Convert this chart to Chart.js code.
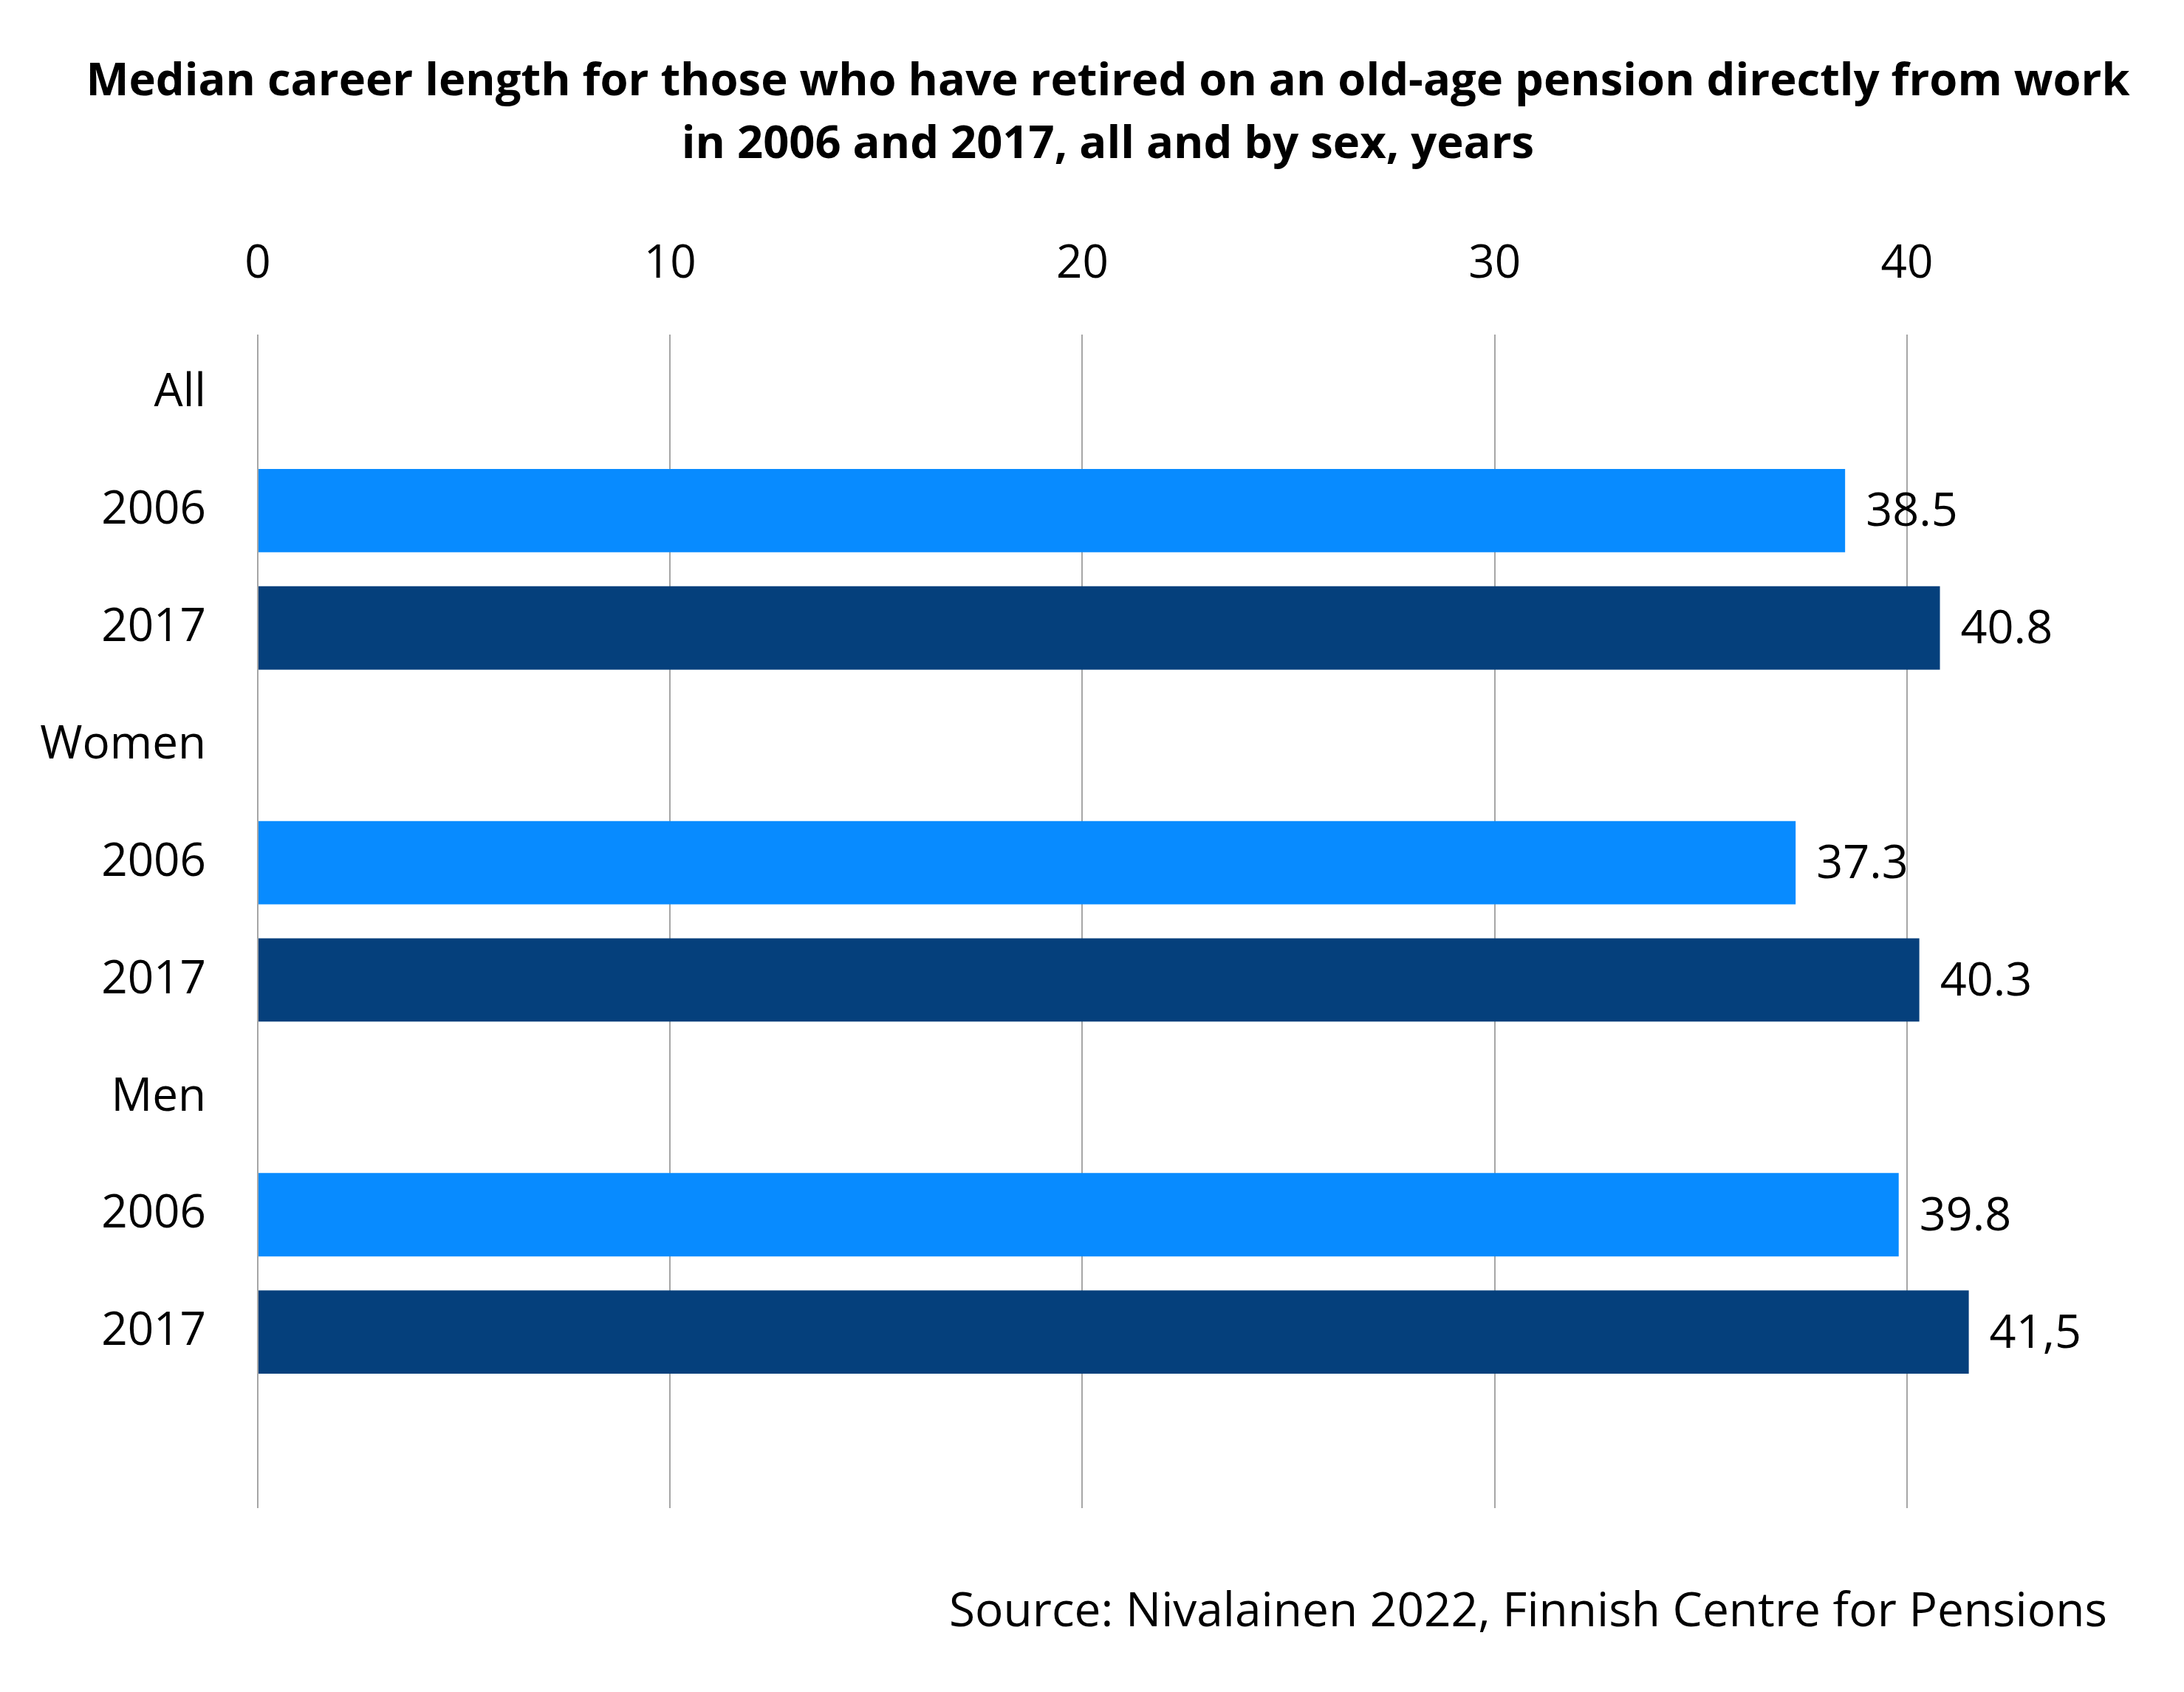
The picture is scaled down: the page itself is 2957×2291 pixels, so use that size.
<!DOCTYPE html>
<html>
<head>
<meta charset="utf-8">
<title>Median career length</title>
<script src="https://cdn.jsdelivr.net/npm/chart.js@4.4.1/dist/chart.umd.min.js"></script>
<style>
  html, body { margin: 0; padding: 0; background: #ffffff; }
  canvas { display: block; }
</style>
</head>
<body>
<canvas id="chart" width="2957" height="2291"></canvas>
<script>
// Data
const categories = ['All', '2006', '2017', 'Women', '2006', '2017', 'Men', '2006', '2017', ''];
const values = [null, 38.5, 40.8, null, 37.3, 40.3, null, 39.8, 41.5, null];
const valueLabels = ['', '38.5', '40.8', '', '37.3', '40.3', '', '39.8', '41,5', ''];
const xTicks = [0, 10, 20, 30, 40];
const titleLines = [
    'Median career length for those who have retired on an old-age pension directly from work',
    'in 2006 and 2017, all and by sex, years'
];
const sourceText = 'Source: Nivalainen 2022, Finnish Centre for Pensions';

const light = '#088BFF';
const dark = '#05407C';
const barColors = categories.map(c => c === '2017' ? dark : light);
const fontFamily = '"Open Sans", "Noto Sans", sans-serif';

// Título e fonte desenhados no canvas
const textPlugin = {
    id: 'texts',
    afterDraw(chart) {
        const ctx = chart.ctx;
        ctx.save();
        ctx.fillStyle = '#000000';
        ctx.textBaseline = 'middle';
        ctx.textAlign = 'center';
        ctx.font = 'bold 61.5px ' + fontFamily;
        ctx.fillText(titleLines[0], 1500, 111);
        ctx.fillText(titleLines[1], 1500, 196);
        ctx.textAlign = 'right';
        ctx.font = '64px ' + fontFamily;
        ctx.fillText(sourceText, 2853, 2184);
        ctx.restore();
    }
};

// Etiquetas de valor à direita das barras
const valueLabelPlugin = {
    id: 'valueLabels',
    afterDatasetsDraw(chart) {
        const ctx = chart.ctx;
        const meta = chart.getDatasetMeta(0);
        ctx.save();
        ctx.font = '63px ' + fontFamily;
        ctx.fillStyle = '#000000';
        ctx.textAlign = 'left';
        ctx.textBaseline = 'middle';
        meta.data.forEach((bar, i) => {
            if (!valueLabels[i]) return;
            ctx.fillText(valueLabels[i], bar.x + 28, bar.y + 3);
        });
        ctx.restore();
    }
};

const ctx = document.getElementById('chart').getContext('2d');
new Chart(ctx, {
    type: 'bar',
    data: {
        labels: categories,
        datasets: [{
            data: values,
            backgroundColor: barColors,
            borderWidth: 0,
            categoryPercentage: 1,
            barPercentage: 0.71
        }]
    },
    options: {
        indexAxis: 'y',
        responsive: false,
        animation: false,
        layout: { padding: { left: 10, right: 96, top: 236, bottom: 249 } },
        plugins: {
            legend: { display: false },
            tooltip: { enabled: false },
            title: { display: false },
            subtitle: { display: false }
        },
        scales: {
            x: {
                position: 'top',
                min: 0,
                max: 45,
                afterFit(scale) { scale.height = 217; },
                afterBuildTicks(scale) { scale.ticks = xTicks.map(v => ({ value: v })); },
                ticks: {
                    color: '#000000',
                    padding: 57,
                    font: { family: fontFamily, size: 62 }
                },
                grid: { color: '#A6A6A6', lineWidth: 2, drawTicks: false },
                border: { display: false }
            },
            y: {
                afterFit(scale) { scale.width = 339; },
                ticks: {
                    color: '#000000',
                    padding: 70,
                    font: { family: fontFamily, size: 62 }
                },
                grid: { display: false, drawTicks: false },
                border: { display: false }
            }
        }
    },
    plugins: [valueLabelPlugin, textPlugin]
});
</script>
</body>
</html>
